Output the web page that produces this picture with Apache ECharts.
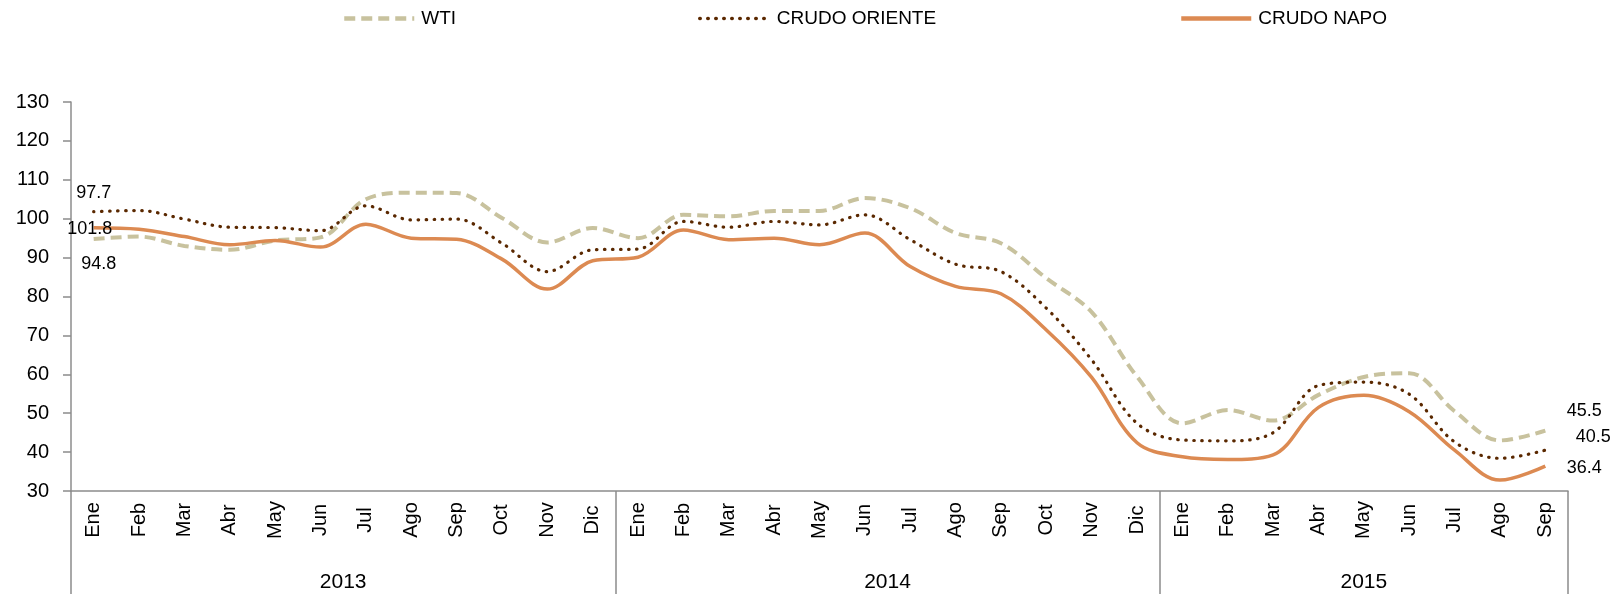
<!DOCTYPE html>
<html>
<head>
<meta charset="utf-8">
<title>WTI / Crudo Oriente / Crudo Napo</title>
<script src="https://cdn.jsdelivr.net/npm/echarts@6/dist/echarts.min.js"></script>
<style>
  html, body { margin: 0; padding: 0; background: #fff; }
  #chart { width: 1618px; height: 594px; }
</style>
</head>
<body>
<div id="chart"></div>
<script>
// meses 2013-01 .. 2015-09
var months = ['Ene','Feb','Mar','Abr','May','Jun','Jul','Ago','Sep','Oct','Nov','Dic',
              'Ene','Feb','Mar','Abr','May','Jun','Jul','Ago','Sep','Oct','Nov','Dic',
              'Ene','Feb','Mar','Abr','May','Jun','Jul','Ago','Sep'];
var years = ['2013','2014','2015'];
var yearStart = [0, 12, 24];

var wti = [94.8, 95.4, 93.0, 92.0, 94.4, 95.2, 105.0, 106.7, 106.6, 100.2, 93.9, 97.6,
           95.0, 101.0, 100.6, 102.0, 102.0, 105.3, 102.7, 96.3, 93.7, 84.7, 76.0, 59.4,
           47.4, 50.8, 48.1, 54.7, 59.3, 60.3, 50.5, 43.0, 45.5];
var oriente = [101.8, 102.1, 99.9, 97.8, 97.7, 96.9, 103.3, 99.7, 99.9, 93.7, 86.4, 92.0,
               92.2, 99.3, 97.8, 99.3, 98.4, 101.0, 94.6, 88.3, 86.4, 77.0, 63.7, 47.4,
               43.1, 42.9, 45.0, 57.1, 58.0, 54.9, 42.6, 38.4, 40.5];
var napo = [97.7, 97.3, 95.4, 93.3, 94.4, 92.7, 98.6, 95.0, 94.7, 89.6, 81.9, 89.2,
            90.1, 97.1, 94.6, 95.0, 93.3, 96.3, 87.7, 82.6, 80.7, 71.4, 59.2, 42.4,
            38.8, 38.1, 39.3, 51.5, 54.6, 50.4, 40.5, 32.8, 36.4];

var FONT = 'Liberation Sans';
var GRAY = '#8c8c8c';

// primer y ultimo punto llevan etiqueta (como en Excel)
function withLabels(values, firstOffset, lastOffset){
    var last = values.length - 1;
    return values.map(function(v, i){
        if (i !== 0 && i !== last) return v;
        return {
            value: v,
            symbol: 'circle',
            symbolSize: 2,
            itemStyle: { color: 'rgba(0,0,0,0)' },
            label: {
                show: true,
                position: 'inside',
                offset: i === 0 ? firstOffset : lastOffset,
                formatter: function(p){ return p.value.toFixed(1); },
                color: '#000',
                fontFamily: FONT,
                fontSize: 18
            }
        };
    });
}

// centros de cada año para la etiqueta del segundo nivel
var yearMid = yearStart.map(function(s, i){
    var e = i + 1 < yearStart.length ? yearStart[i + 1] : months.length;
    return (s + e) / 2;
});
var yearBounds = yearStart.concat([months.length]);

var option = {
    animation: false,
    legend: [
        { data: ['WTI'], left: 342, top: 9, lineStyle: { width: 4.5 } },
        { data: ['CRUDO ORIENTE'], left: 698, top: 9, lineStyle: { width: 3.5 } },
        { data: ['CRUDO NAPO'], left: 1179, top: 9, lineStyle: { width: 4.5 } }
    ].map(function(l){
        l.padding = 0;
        l.itemWidth = 70;
        l.itemHeight = 20;
        l.itemStyle = { opacity: 0 };
        l.textStyle = { color: '#000', fontFamily: FONT, fontSize: 19, padding: [0, 0, 0, 2] };
        return l;
    }),
    grid: { left: 71, right: 50, top: 102, bottom: 103 },
    xAxis: [
        {
            type: 'category',
            data: months,
            position: 'bottom',
            boundaryGap: true,
            axisLine: { onZero: false, lineStyle: { color: GRAY, width: 1.5 } },
            axisTick: { interval: 0, length: 59, lineStyle: { color: GRAY, width: 1.5 } },
            axisLabel: {
                interval: 0,
                rotate: 90,
                align: 'center',
                verticalAlign: 'middle',
                margin: 29,
                color: '#000',
                fontFamily: FONT,
                fontSize: 20
            }
        },
        {
            type: 'value',
            position: 'bottom',
            min: 0,
            max: months.length,
            axisLine: { show: false, onZero: false },
            splitLine: { show: false },
            axisTick: { customValues: yearBounds, length: 103, lineStyle: { color: GRAY, width: 1.5 } },
            axisLabel: {
                customValues: yearMid,
                margin: 81,
                color: '#000',
                fontFamily: FONT,
                fontSize: 21,
                formatter: function(v){ return years[yearMid.indexOf(v)] || ''; }
            }
        }
    ],
    yAxis: {
        type: 'value',
        min: 30,
        max: 130,
        interval: 10,
        axisLine: { show: true, lineStyle: { color: GRAY, width: 1.5 } },
        axisTick: { show: true, length: 8, lineStyle: { color: GRAY, width: 1.5 } },
        splitLine: { show: false },
        axisLabel: { margin: 22, color: '#000', fontFamily: FONT, fontSize: 20 }
    },
    series: [
        {
            name: 'WTI',
            type: 'line',
            symbol: 'none',
            smooth: 0.35,
            data: withLabels(wti, [5, 25], [39, -20]),
            itemStyle: { color: '#C8C29E' },
            lineStyle: { color: '#C8C29E', width: 4, type: [11, 6] }
        },
        {
            name: 'CRUDO ORIENTE',
            type: 'line',
            symbol: 'none',
            smooth: 0.35,
            data: withLabels(oriente, [-4, 17], [48, -13]),
            itemStyle: { color: '#5A2800' },
            lineStyle: { color: '#5A2800', width: 3.2, type: [0.5, 7.5], cap: 'round' }
        },
        {
            name: 'CRUDO NAPO',
            type: 'line',
            symbol: 'none',
            smooth: 0.35,
            data: withLabels(napo, [0, -35], [39, 2]),
            itemStyle: { color: '#DC8A52' },
            lineStyle: { color: '#DC8A52', width: 3.5 }
        }
    ]
};

var myChart = echarts.init(document.getElementById('chart'));
myChart.setOption(option);
</script>
</body>
</html>
